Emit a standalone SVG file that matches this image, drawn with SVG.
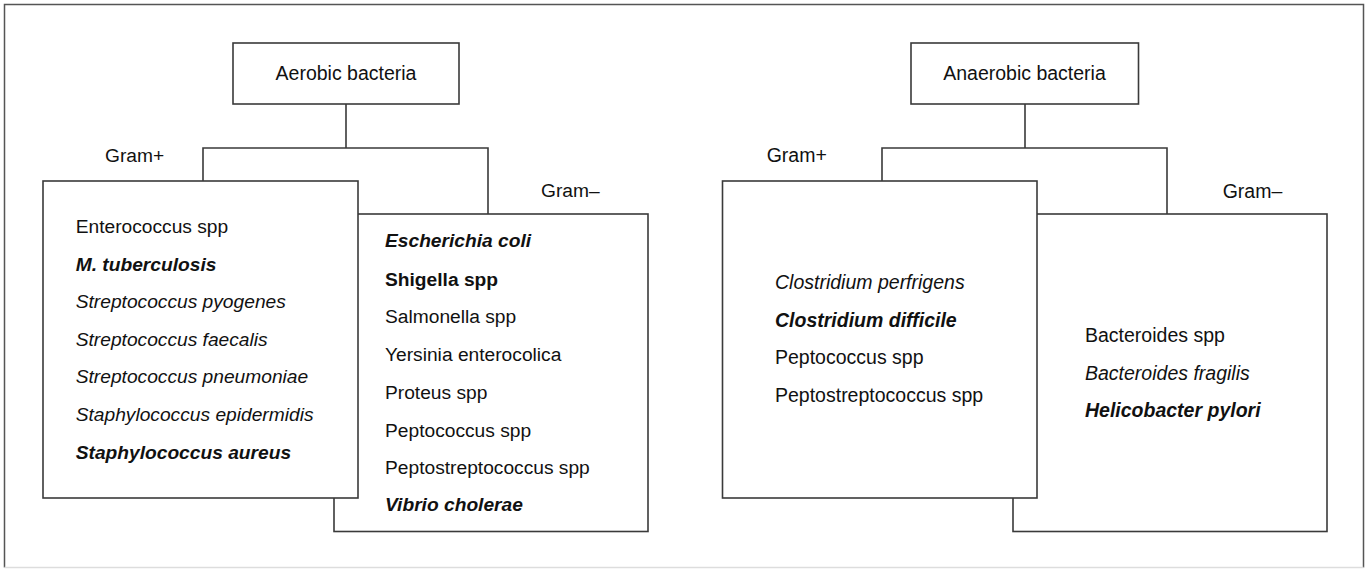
<svg xmlns="http://www.w3.org/2000/svg" width="1366" height="570" viewBox="0 0 1366 570">
<style>
.box{fill:#fff;stroke:#3a3a3a;stroke-width:1.6}
.ln{fill:none;stroke:#3a3a3a;stroke-width:1.6}
text{font-family:"Liberation Sans",Arial,Helvetica,sans-serif;fill:#111;font-size:19.2px}
.r text{font-size:19.5px}
.h{font-size:19.5px}
.i{font-style:italic}
.b{font-weight:bold}
.bi{font-weight:bold;font-style:italic}
</style>
<rect width="1366" height="570" fill="#fff"/>
<g id="frame">
<path d="M4.5,567.5 V4.5 H1363.5 V567.5" fill="none" stroke="#555" stroke-width="1.5"/>
<path d="M4.5,567.5 H1363.5" fill="none" stroke="#ddd" stroke-width="1.5"/>
</g>
<g id="connectors">
<path class="ln" d="M346,104 V148 M203,181 V148 H488 V214"/>
<path class="ln" d="M1025,104 V148 M882,181 V148 H1167 V214"/>
</g>
<g id="aerobic">
<rect class="box" x="233" y="43" width="226" height="61"/>
<text class="h" x="346" y="80" text-anchor="middle">Aerobic bacteria</text>
</g>
<g id="aerobic-gram-neg">
<rect class="box" x="334" y="214" width="314" height="317.5"/>
<text x="541" y="197">Gram–</text>
<text class="bi" x="385" y="247.3">Escherichia coli</text>
<text class="b" x="385" y="285.7">Shigella spp</text>
<text x="385" y="323.3">Salmonella spp</text>
<text x="385" y="360.7">Yersinia enterocolica</text>
<text x="385" y="398.7">Proteus spp</text>
<text x="385" y="436.7">Peptococcus spp</text>
<text x="385" y="474">Peptostreptococcus spp</text>
<text class="bi" x="385" y="510.7">Vibrio cholerae</text>
</g>
<g id="aerobic-gram-pos">
<rect class="box" x="43" y="181" width="315" height="317"/>
<text x="105" y="162.3">Gram+</text>
<text x="75.7" y="233.3">Enterococcus spp</text>
<text class="bi" x="75.7" y="270.7">M. tuberculosis</text>
<text class="i" x="75.7" y="308">Streptococcus pyogenes</text>
<text class="i" x="75.7" y="345.7">Streptococcus faecalis</text>
<text class="i" x="75.7" y="383.3">Streptococcus pneumoniae</text>
<text class="i" x="75.7" y="420.7">Staphylococcus epidermidis</text>
<text class="bi" x="75.7" y="458.7">Staphylococcus aureus</text>
</g>
<g id="anaerobic">
<rect class="box" x="911" y="43" width="227.5" height="61"/>
<text class="h" x="1024.5" y="80" text-anchor="middle">Anaerobic bacteria</text>
</g>
<g id="anaerobic-gram-neg" class="r">
<rect class="box" x="1013" y="214" width="314" height="317.5"/>
<text x="1222.7" y="197.5">Gram–</text>
<text x="1085" y="342.3">Bacteroides spp</text>
<text class="i" x="1085" y="380">Bacteroides fragilis</text>
<text class="bi" x="1085" y="417.3">Helicobacter pylori</text>
</g>
<g id="anaerobic-gram-pos" class="r">
<rect class="box" x="722.5" y="181" width="314.5" height="317"/>
<text x="766.7" y="162.3">Gram+</text>
<text class="i" x="775" y="289">Clostridium perfrigens</text>
<text class="bi" x="775" y="326.7">Clostridium difficile</text>
<text x="775" y="364.4">Peptococcus spp</text>
<text x="775" y="402">Peptostreptococcus spp</text>
</g>
</svg>
